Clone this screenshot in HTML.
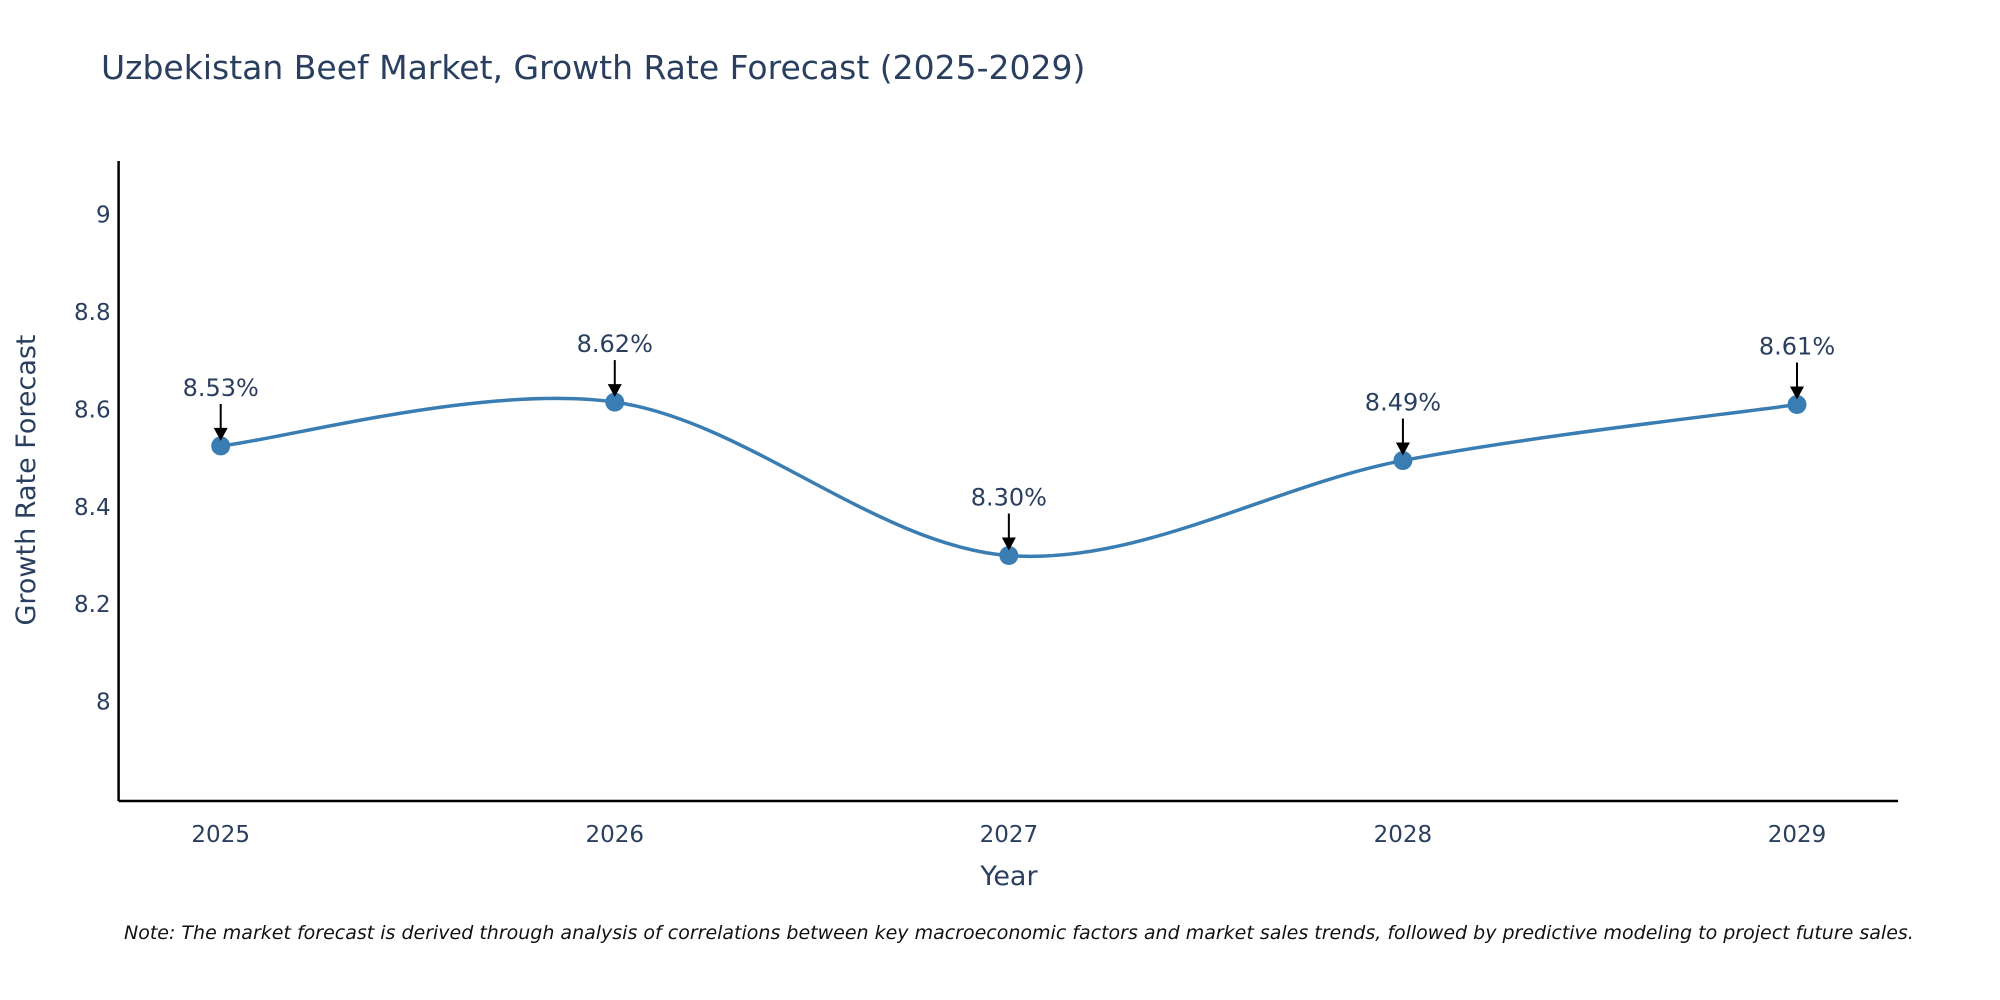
<!DOCTYPE html>
<html><head><meta charset="utf-8">
<style>
html,body{margin:0;padding:0;background:#fff;}
svg{display:block;font-family:"DejaVu Sans","Liberation Sans",sans-serif;}
</style></head>
<body>
<svg id="chart" width="2000" height="1000" viewBox="0 0 2000 1000" xmlns="http://www.w3.org/2000/svg">
<text x="101" y="79" font-size="33" fill="#2a3f5f">Uzbekistan Beef Market, Growth Rate Forecast (2025-2029)</text>
<g id="axes"></g>
<g id="series"></g>
<g id="annos"></g>
<text transform="translate(35,480) rotate(-90)" text-anchor="middle" font-size="27" fill="#2a3f5f">Growth Rate Forecast</text>
<text x="1009" y="885" text-anchor="middle" font-size="27" fill="#2a3f5f">Year</text>
<text x="124" y="939" font-size="19" font-style="italic" fill="#111">Note: The market forecast is derived through analysis of correlations between key macroeconomic factors and market sales trends, followed by predictive modeling to project future sales.</text>
</svg>
<script>
const years = ["2025","2026","2027","2028","2029"];
const values = [8.525, 8.615, 8.30, 8.495, 8.61];
const labels = ["8.53%","8.62%","8.30%","8.49%","8.61%"];
const yTicks = [8, 8.2, 8.4, 8.6, 8.8, 9];
const yTickLabels = ["8","8.2","8.4","8.6","8.8","9"];

const NS="http://www.w3.org/2000/svg";
const L=118.6,R=1898,T=161,B=801;
const yMin=7.796,yMax=9.11;
function xs(i){return 220.7+i*(1797-220.7)/(years.length-1);}
function ys(v){return B-(v-yMin)/(yMax-yMin)*(B-T);}
function mk(tag,attrs,parent){const e=document.createElementNS(NS,tag);for(const k in attrs)e.setAttribute(k,attrs[k]);parent.appendChild(e);return e;}
const axes=document.getElementById('axes'),series=document.getElementById('series'),annos=document.getElementById('annos');

let e=mk('line',{x1:L,y1:T,x2:L,y2:B,stroke:'#000','stroke-width':2.5},axes);


e=mk('line',{x1:L,y1:B,x2:R,y2:B,stroke:'#000','stroke-width':2.5},axes);


yTicks.forEach((t,i)=>{
  const tx=mk('text',{x:L-8,y:ys(t)+8,'text-anchor':'end','font-size':23,fill:'#2a3f5f'},axes);
  tx.textContent=yTickLabels[i];
  
  
});
years.forEach((y,i)=>{
  const tx=mk('text',{x:xs(i),y:B+41,'text-anchor':'middle','font-size':23,fill:'#2a3f5f'},axes);
  tx.textContent=y;
  
  
});
const pts=values.map((v,i)=>[xs(i),ys(v)]);
let d=`M${pts[0][0]},${pts[0][1]}`;
const s=0.5/3*2;
for(let i=0;i<pts.length-1;i++){
  const p0=pts[Math.max(0,i-1)],p1=pts[i],p2=pts[i+1],p3=pts[Math.min(pts.length-1,i+2)];
  const c1=[p1[0]+(p2[0]-p0[0])*s/2,p1[1]+(p2[1]-p0[1])*s/2];
  const c2=[p2[0]-(p3[0]-p1[0])*s/2,p2[1]-(p3[1]-p1[1])*s/2];
  d+=` C${c1[0]},${c1[1]} ${c2[0]},${c2[1]} ${p2[0]},${p2[1]}`;
}
e=mk('path',{d:d,fill:'none',stroke:'#3a7db3','stroke-width':3.5},series);


pts.forEach((p,i)=>{
  const c=mk('circle',{cx:p[0],cy:p[1],r:9.5,fill:'#3a7db3'},series);
  
  
  const ln=mk('line',{x1:p[0],y1:p[1]-42,x2:p[0],y2:p[1]-16,stroke:'#000','stroke-width':2},annos);
  
  
  const hd=mk('path',{d:`M${p[0]-7},${p[1]-18} L${p[0]+7},${p[1]-18} L${p[0]},${p[1]-5} Z`,fill:'#000'},annos);
  
  
  const tx=mk('text',{x:p[0],y:p[1]-50,'text-anchor':'middle','font-size':24,fill:'#2a3f5f'},annos);
  tx.textContent=labels[i];
  
  
});
</script>
</body></html>
